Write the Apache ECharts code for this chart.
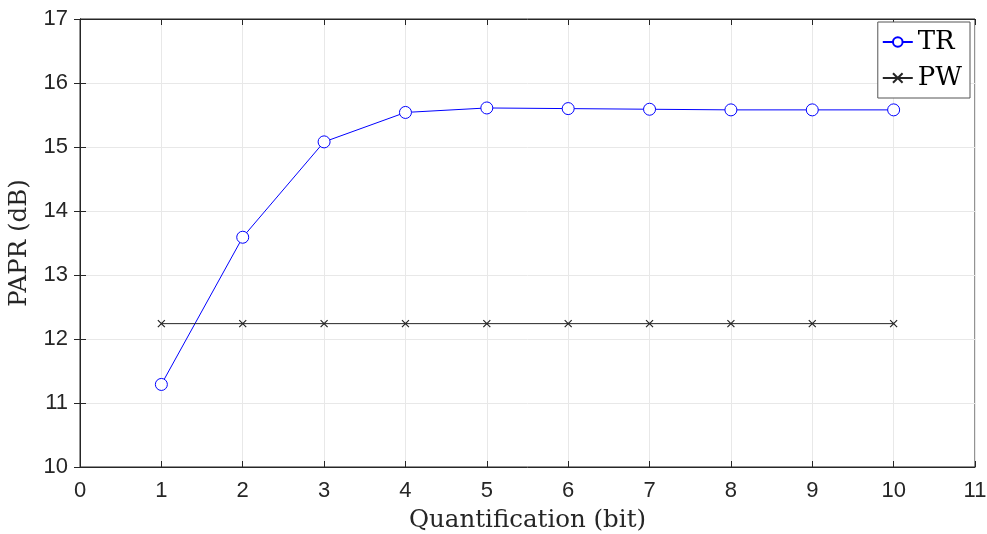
<!DOCTYPE html>
<html>
<head>
<meta charset="utf-8">
<script src="https://cdn.jsdelivr.net/npm/echarts@6/dist/echarts.min.js"></script>
<style>
  html, body { margin: 0; padding: 0; background: #fff; }
  #chart { width: 987px; height: 534px; }
</style>
</head>
<body>
<div id="chart"></div>
<script>
const bits = [1, 2, 3, 4, 5, 6, 7, 8, 9, 10]
const trValues = [11.29, 13.59, 15.08, 15.54, 15.61, 15.60, 15.59, 15.58, 15.58, 15.58]
const pwValues = [12.24, 12.24, 12.24, 12.24, 12.24, 12.24, 12.24, 12.24, 12.24, 12.24]

const chart = echarts.init(document.getElementById('chart'), null, { renderer: 'canvas' })

const axisText = { color: '#262626', fontSize: 22, fontFamily: 'Liberation Sans' }
const nameText = { color: '#262626', fontSize: 24.5, fontFamily: 'DejaVu Serif' }
const tickStyle = { inside: true, length: 6, lineStyle: { color: '#262626' } }

// plain copies of the axes on the top and right, for the box ticks
const boxX = {
  type: 'value', min: 0, max: 11, interval: 1, position: 'top',
  axisLine: { lineStyle: { color: '#262626' } },
  axisTick: tickStyle, axisLabel: { show: false }, splitLine: { show: false }
}
const boxY = {
  type: 'value', min: 10, max: 17, interval: 1, position: 'right',
  axisLine: { show: true, lineStyle: { color: '#262626' } },
  axisTick: Object.assign({ show: true }, tickStyle), axisLabel: { show: false }, splitLine: { show: false }
}

const option = {
  animation: false,
  grid: {
    left: 80, right: 12, top: 19, bottom: 67,
    outerBoundsMode: 'none',
    show: true, borderColor: '#262626', borderWidth: 1
  },
  legend: {
    orient: 'vertical',
    right: 17, top: 22,
    backgroundColor: '#fff',
    borderColor: '#555', borderWidth: 1,
    padding: [7, 8, 7, 4],
    itemGap: 10,
    itemWidth: 30, itemHeight: 12,
    textStyle: { fontFamily: 'DejaVu Serif', fontSize: 26, color: '#000' },
    data: ['TR', 'PW']
  },
  xAxis: [{
    type: 'value', min: 0, max: 11, interval: 1,
    name: 'Quantification (bit)', nameLocation: 'middle', nameGap: 41,
    nameTextStyle: nameText,
    axisLine: { lineStyle: { color: '#262626' } },
    axisTick: tickStyle,
    axisLabel: Object.assign({ margin: 13 }, axisText),
    splitLine: { show: true, lineStyle: { color: '#e8e8e8' } }
  }, boxX],
  yAxis: [{
    type: 'value', min: 10, max: 17, interval: 1,
    name: 'PAPR (dB)', nameLocation: 'middle', nameGap: 40,
    nameTextStyle: nameText,
    axisLine: { show: true, lineStyle: { color: '#262626' } },
    axisTick: Object.assign({ show: true }, tickStyle),
    axisLabel: Object.assign({ margin: 12 }, axisText),
    splitLine: { show: true, lineStyle: { color: '#e8e8e8' } }
  }, boxY],
  series: [
    {
      name: 'TR', type: 'line',
      data: bits.map((b, i) => [b, trValues[i]]),
      symbol: 'circle', symbolSize: 12,
      lineStyle: { color: '#0000ff', width: 1 },
      itemStyle: { color: '#fff', borderColor: '#0000ff', borderWidth: 1 },
      color: '#0000ff'
    },
    {
      name: 'PW', type: 'line',
      data: bits.map((b, i) => [b, pwValues[i]]),
      symbol: 'path://M0,0L10,10M10,0L0,10', symbolSize: 7,
      lineStyle: { color: '#262626', width: 1 },
      itemStyle: { color: 'none', borderColor: '#262626', borderWidth: 1.2 },
      color: '#262626'
    }
  ]
}

chart.setOption(option)
window.addEventListener('resize', chart.resize)
</script>
</body>
</html>
